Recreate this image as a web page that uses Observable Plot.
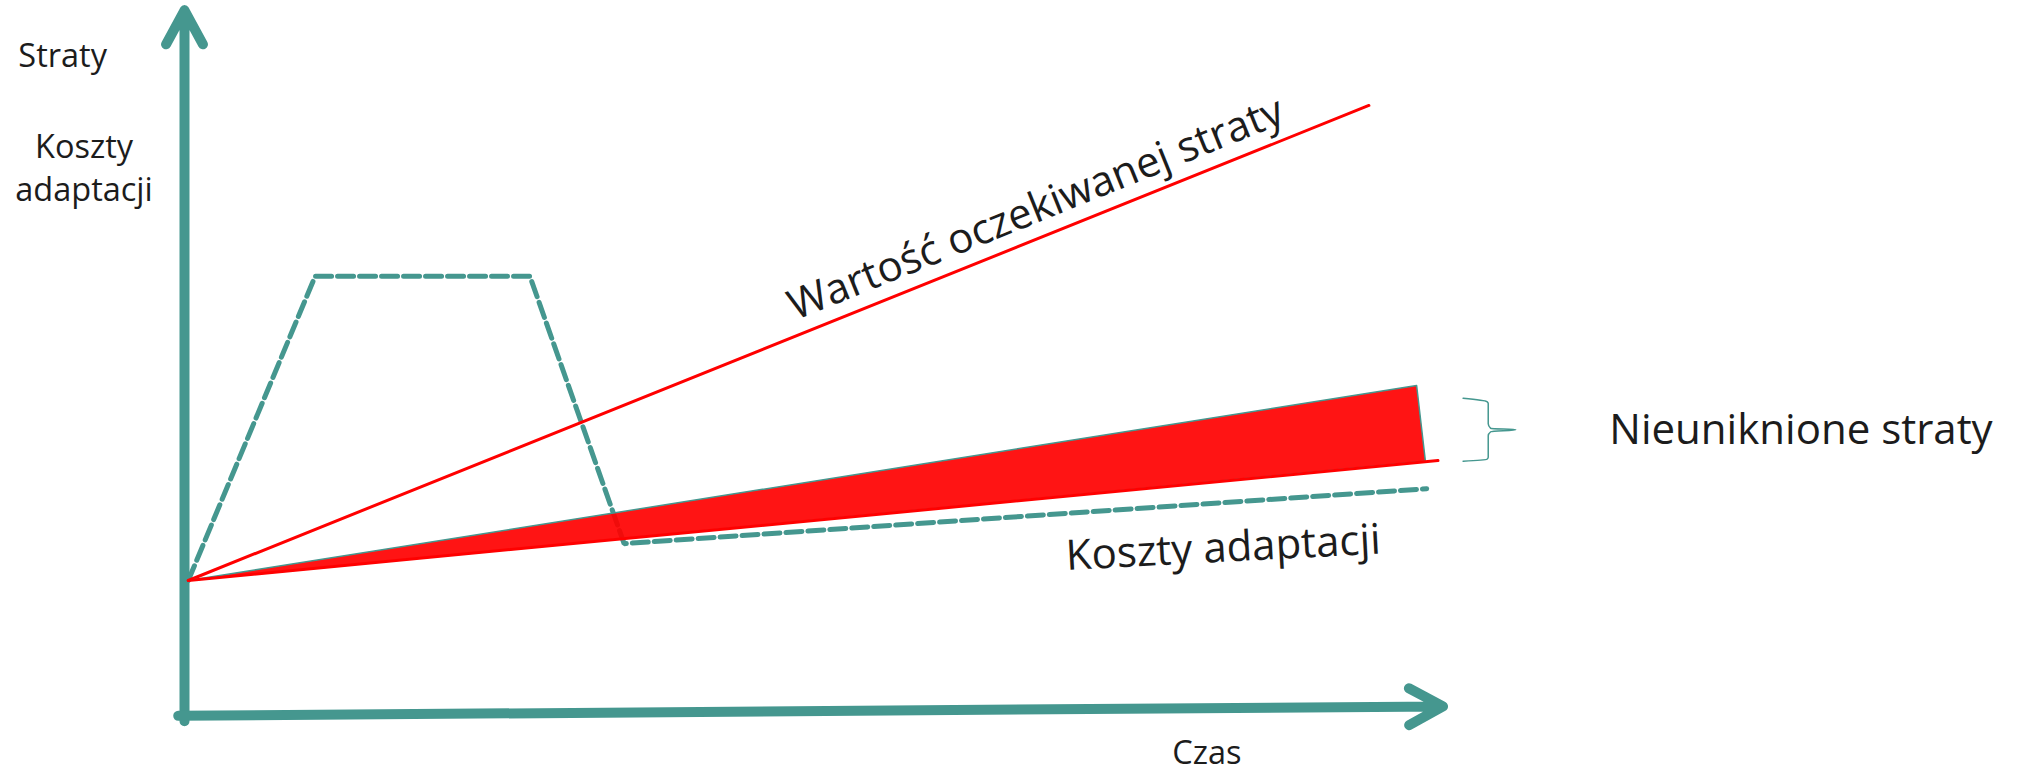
<!DOCTYPE html>
<html>
<head>
<meta charset="utf-8">
<script src="https://cdn.jsdelivr.net/npm/d3@7"></script>
<script src="https://cdn.jsdelivr.net/npm/@observablehq/plot@0.6"></script>
<style>
  html, body { margin: 0; padding: 0; background: #ffffff; }
  #chart svg { display: block; }
</style>
</head>
<body>
<div id="chart"></div>
<script>
// ---- Data (time t, value v in abstract units 0..100) ----
// Axes
const axisYStart = [0, -0.7];     // [t, v]
const axisYEnd   = [0, 105.4];
const axisXStart = [-0.5, 0.1];
const axisXEnd   = [100.2, 1.5];

// Expected loss (Wartość oczekiwanej straty)
const expectedLossT = [0.3, 94.3];
const expectedLossV = [20.3, 91.2];

// Unavoidable losses wedge (Nieuniknione straty)
const wedgeT = [0.3, 98.1, 98.8, 0.3];
const wedgeV = [20.3, 49.4, 38.1, 20.3];

// Residual loss line (lower edge of wedge)
const residualT = [0.3, 99.8];
const residualV = [20.3, 38.2];

// Adaptation costs (Koszty adaptacji)
const adaptT = [0.3, 10.4, 27.5, 35.0, 98.9];
const adaptV = [20.3, 65.7, 65.7, 25.8, 34.0];

// Brace
const braceT = [101.8, 103.7, 103.8, 103.8, 104.0, 106.0, 104.0, 103.8, 103.8, 103.7, 101.8];
const braceV = [47.5, 47.0, 46.7, 43.7, 43.0, 42.8, 42.5, 41.9, 38.7, 38.4, 38.1];

// Labels
const labelTexts  = ["Straty", "Koszty\nadaptacji", "Czas"];
const labelT      = [-9.7, -8.0, 81.4];
const labelV      = [99.0, 82.2, -5.0];

const seriesTexts = ["Wartość oczekiwanej straty", "Koszty adaptacji", "Nieuniknione straty"];
const seriesT     = [67.8, 82.7, 128.7];
const seriesV     = [75.8, 25.1, 42.7];
const seriesRot   = [-22, -3, 0];

// ---- Build tables ----
const pts = (T, V) => T.map((t, i) => ({t, v: V[i]}));
const teal = "#45978f";
const red = "#ff0000";

const arrows = [
  {t1: axisYStart[0], v1: axisYStart[1], t2: axisYEnd[0], v2: axisYEnd[1]},
  {t1: axisXStart[0], v1: axisXStart[1], t2: axisXEnd[0], v2: axisXEnd[1]}
];
const labels = labelTexts.map((s, i) => ({s, t: labelT[i], v: labelV[i]}));
const series = seriesTexts.map((s, i) => ({s, t: seriesT[i], v: seriesV[i], r: seriesRot[i]}));

const chart = Plot.plot({
  width: 2023,
  height: 773,
  margin: 0,
  x: {domain: [0, 100], range: [184, 1440], axis: null},
  y: {domain: [0, 100], range: [716, 46], axis: null},
  style: {fontFamily: "'Open Sans', sans-serif", background: "#ffffff", overflow: "visible"},
  marks: [
    Plot.arrow(arrows, {
      x1: "t1", y1: "v1", x2: "t2", y2: "v2",
      stroke: teal, strokeWidth: 10, headLength: 5.8, headAngle: 57,
      strokeLinecap: "round", strokeLinejoin: "round"
    }),
    Plot.line(pts(adaptT, adaptV), {
      x: "t", y: "v", stroke: teal, strokeWidth: 5, strokeDasharray: "16,6",
      strokeLinejoin: "miter"
    }),
    Plot.line(pts(expectedLossT, expectedLossV), {
      x: "t", y: "v", stroke: red, strokeWidth: 3
    }),
    Plot.line(pts(wedgeT, wedgeV), {
      x: "t", y: "v", fill: "#ff0000", fillOpacity: 0.92, stroke: teal, strokeWidth: 1.5
    }),
    Plot.line(pts(residualT, residualV), {
      x: "t", y: "v", stroke: red, strokeWidth: 3
    }),
    Plot.line(pts(braceT, braceV), {
      x: "t", y: "v", stroke: teal, strokeWidth: 1.5, curve: "monotone-y"
    }),
    Plot.text(labels, {
      x: "t", y: "v", text: "s", fontSize: 32.5, lineHeight: 1.34,
      fill: "#1c1c1c", textAnchor: "middle"
    }),
    Plot.text(series, {
      x: "t", y: "v", text: "s", rotate: "r", fontSize: 42,
      fill: "#1c1c1c", textAnchor: "middle"
    })
  ]
});
document.getElementById("chart").appendChild(chart);
</script>
</body>
</html>
